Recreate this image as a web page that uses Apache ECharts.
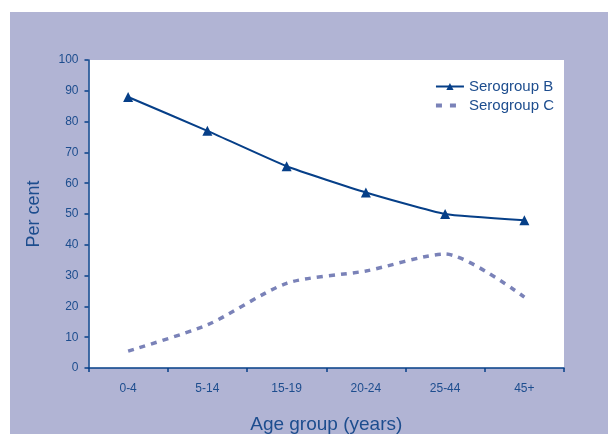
<!DOCTYPE html>
<html>
<head>
<meta charset="utf-8">
<script src="https://cdn.jsdelivr.net/npm/echarts@6/dist/echarts.min.js"></script>
<style>
  html, body { margin: 0; padding: 0; background: #ffffff; }
  #chart { width: 608px; height: 434px; }
</style>
</head>
<body>
<div id="chart"></div>
<script>
// Age bands on the horizontal axis
const ageGroups = ['0-4', '5-14', '15-19', '20-24', '25-44', '45+'];
// Share of cases (per cent) by serogroup
const serogroupB = [88, 77, 65.5, 57, 50, 48];
const serogroupC = [5.5, 14, 27.5, 31.5, 37, 23];
// Vertical axis range
const yMin = 0;
const yMax = 100;
const yStep = 10;

const navy = '#063f88';
const lilac = '#7a82b8';
const textBlue = '#1d4d8e';
const panel = '#b1b4d4';
const font = 'Liberation Sans';

const chart = echarts.init(document.getElementById('chart'), null, { renderer: 'canvas' });

chart.setOption({
  backgroundColor: '#ffffff',
  animation: false,
  graphic: [
    {
      type: 'rect',
      z: -10,
      shape: { x: 10, y: 12, width: 598, height: 422 },
      style: { fill: panel }
    }
  ],
  grid: {
    left: 88.5, right: 44, top: 60, bottom: 66,
    containLabel: false,
    outerBoundsMode: 'none',
    show: true, backgroundColor: '#ffffff', borderWidth: 0
  },
  legend: {
    right: 49, top: 74,
    orient: 'vertical',
    itemWidth: 28, itemHeight: 9, itemGap: 4,
    textStyle: { color: textBlue, fontFamily: font, fontSize: 15 },
    data: [
      { name: 'Serogroup B' },
      { name: 'Serogroup C', itemStyle: { opacity: 0 }, lineStyle: { width: 4, type: [6, 8] } }
    ]
  },
  xAxis: {
    type: 'category',
    data: ageGroups,
    boundaryGap: true,
    name: 'Age group (years)',
    nameLocation: 'middle',
    nameGap: 47,
    nameTextStyle: { color: textBlue, fontFamily: font, fontSize: 19 },
    axisLine: { lineStyle: { color: navy, width: 1.5 } },
    axisTick: { show: true, length: 4, lineStyle: { color: navy, width: 1.5 } },
    axisLabel: { color: textBlue, fontFamily: font, fontSize: 12, margin: 15 },
    splitLine: { show: false }
  },
  yAxis: {
    type: 'value',
    min: yMin, max: yMax, interval: yStep,
    name: 'Per cent',
    nameLocation: 'middle',
    nameGap: 45,
    nameTextStyle: { color: textBlue, fontFamily: font, fontSize: 18 },
    axisLine: { show: true, lineStyle: { color: navy, width: 1.5 } },
    axisTick: { show: true, length: 4, lineStyle: { color: navy, width: 1.5 } },
    axisLabel: { color: textBlue, fontFamily: font, fontSize: 12, margin: 10 },
    splitLine: { show: false }
  },
  series: [
    {
      name: 'Serogroup B',
      type: 'line',
      data: serogroupB,
      smooth: 0.15,
      symbol: 'triangle',
      symbolSize: 10,
      showAllSymbol: true,
      lineStyle: { color: navy, width: 2 },
      itemStyle: { color: navy, borderWidth: 0 }
    },
    {
      name: 'Serogroup C',
      type: 'line',
      data: serogroupC,
      smooth: 0.25,
      symbol: 'none',
      lineStyle: { color: lilac, width: 3.5, type: [6, 6] },
      itemStyle: { color: lilac }
    }
  ]
});
</script>
</body>
</html>
